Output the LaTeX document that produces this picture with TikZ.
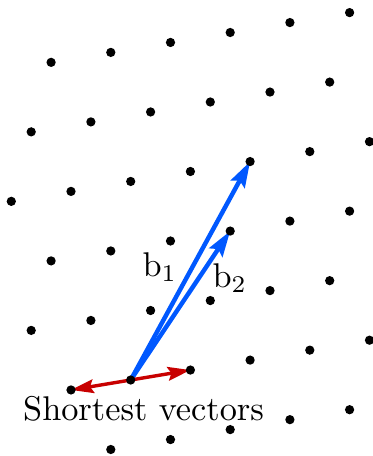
\documentclass[tikz,border=0pt]{standalone}
\usepackage{tikz}
\usepackage{amsmath}
\usetikzlibrary{arrows.meta}
\definecolor{basisblue}{RGB}{0, 88, 255}
\definecolor{shortred}{RGB}{200, 0, 0}

\begin{document}
\begin{tikzpicture}[x=0.2915pt, y=-0.2915pt,
		basis/.style={basisblue, line width=1.3pt, -{Stealth[length=7.5pt, width=4.6pt, inset=1.2pt]}},
		short/.style={shortred, line width=1pt, -{Stealth[length=6.6pt, width=4pt, inset=1pt]}},
		dot/.style={fill=black}]
		
		\useasboundingbox (0,0) rectangle (373,456);
		
		% --- GITTERPUNKTE ---
		\foreach \j/\imin/\imax in {5/-3/2, 4/-3/2, 3/-3/3, 2/-2/3, 1/-2/3, 0/-1/4, -1/0/4} {
			\foreach \i in {\imin,...,\imax} {
				\coordinate (p\i_\j) at ({130.7+\i*59.7+\j*19.9}, {380-\i*9.95-\j*69.5});
			}
		}
		
		% --- BASIS ---
		\draw[basis] (p0_0) -- (p1_3);
		\draw[basis] (p0_0) -- (p1_2);
		
		% --- KUERZESTE VEKTOREN ---
		\draw[short] (p0_0) -- (p1_0);
		\draw[short] (p0_0) -- (p-1_0);
		
		\foreach \j/\imin/\imax in {5/-3/2, 4/-3/2, 3/-3/3, 2/-2/3, 1/-2/3, 0/-1/4, -1/0/4} {
			\foreach \i in {\imin,...,\imax} {
				\fill[dot] (p\i_\j) circle[radius=1.35pt];
			}
		}
		
		% --- BESCHRIFTUNG ---
		\node[anchor=base west, inner sep=0] (lb1) at (142,276) {$\mathrm{b}_1$};
		\node[anchor=base west, inner sep=0] (lb2) at (212,287) {$\mathrm{b}_2$};
		\node[anchor=base west, inner sep=0] (lshort) at (22.5,420) {Shortest vectors};
		
	\end{tikzpicture}
\end{document}
